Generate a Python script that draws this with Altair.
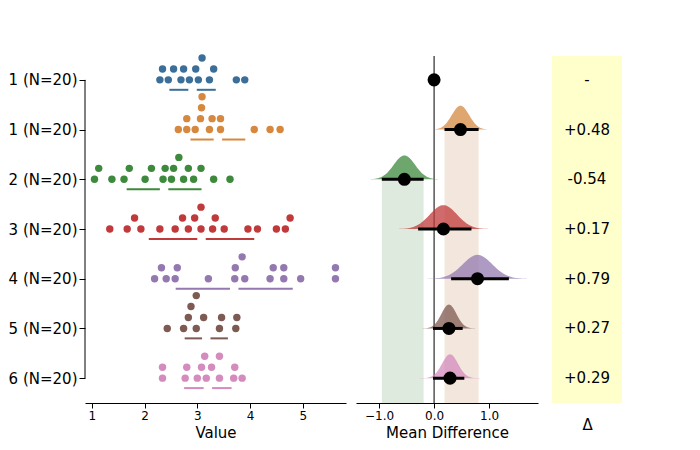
import altair as alt
import pandas as pd
import numpy as np

labels = ["1 (N=20)", "1 (N=20)", "2 (N=20)", "3 (N=20)", "4 (N=20)", "5 (N=20)", "6 (N=20)"]
swarm_colors = ["#3b6e98", "#d6883f", "#3d8a3d", "#c0393b", "#9379b0", "#7d5a52", "#d48bbd"]
dist_colors = ["#1f77b4", "#ff7f0e", "#2ca02c", "#d62728", "#9467bd", "#8c564b", "#e377c2"]

values = [
    [2.29, 2.45, 2.69, 2.85, 3.09, 3.23, 3.74, 3.90, 2.34, 2.55, 2.74, 2.97, 3.31, 3.02],
    [2.64, 2.80, 2.96, 3.23, 3.44, 4.08, 4.38, 4.57, 2.80, 3.06, 3.28, 3.44, 3.08, 3.09],
    [1.05, 1.38, 1.61, 2.01, 2.35, 2.51, 2.83, 3.07, 3.31, 3.62, 1.13, 1.71, 2.13, 2.39, 2.55, 2.74, 2.93, 2.65],
    [1.34, 1.67, 1.93, 2.29, 2.58, 2.72, 2.95, 3.29, 3.51, 3.96, 4.14, 4.50, 4.67, 1.81, 2.83, 3.34, 4.76, 3.07, 3.07],
    [2.19, 2.58, 3.21, 3.71, 4.38, 4.64, 4.96, 5.62, 2.32, 2.62, 3.72, 3.85, 4.44, 4.64, 5.62, 2.41, 3.90],
    [2.43, 2.74, 2.98, 3.12, 3.42, 3.73, 2.83, 2.98, 3.46, 3.75, 2.88],
    [2.34, 2.77, 3.00, 3.17, 3.42, 3.69, 3.85, 2.34, 2.80, 3.08, 3.27, 3.42, 3.71, 3.14],
]
means = [2.91, 3.39, 2.37, 3.08, 3.70, 3.17, 3.20]
sds = [0.44, 0.52, 0.71, 1.00, 1.11, 0.41, 0.45]

diffs = [0.0, 0.48, -0.54, 0.17, 0.79, 0.27, 0.29]
ci_lo = [None, 0.19, -0.95, -0.29, 0.31, -0.02, -0.02]
ci_hi = [None, 0.81, -0.19, 0.68, 1.36, 0.52, 0.55]
delta_text = ["-", "+0.48", "-0.54", "+0.17", "+0.79", "+0.27", "+0.29"]

# simple one-sided beeswarm
pts = []
for g, vals in enumerate(values):
    placed = []
    for v in sorted(vals):
        lvl = 0
        while any(l == lvl and abs(p - v) < 0.15 for p, l in placed):
            lvl += 1
        placed.append((v, lvl))
    for v, l in placed:
        pts.append({"g": g, "v": v, "y": g - 0.22 * l})
pts = pd.DataFrame(pts)

gap = 0.08
sd_rows = []
for g in range(7):
    sd_rows.append({"g": g, "x": means[g] - sds[g], "x2": means[g] - gap, "y": g + 0.2})
    sd_rows.append({"g": g, "x": means[g] + gap, "x2": means[g] + sds[g], "y": g + 0.2})
sd_df = pd.DataFrame(sd_rows)

ydom = [-0.48, 6.5]
yscale = alt.Scale(domain=ydom, reverse=True, nice=False, zero=False)
label_expr = "[" + ",".join("'%s'" % l for l in labels) + "][datum.value]"
H = 347

cscale = alt.Scale(domain=list(range(7)), range=swarm_colors)
dots = alt.Chart(pts).mark_circle(size=55, opacity=1).encode(
    x=alt.X("v:Q", scale=alt.Scale(domain=[0.87, 5.82], nice=False), title="Value",
            axis=alt.Axis(values=[1, 2, 3, 4, 5], grid=False, labelFontSize=12, titleFontSize=15,
                          titleFontWeight="normal", domainColor="black", tickColor="black")),
    y=alt.Y("y:Q", scale=yscale, title=None,
            axis=alt.Axis(values=list(range(7)), labelExpr=label_expr, grid=False, domain=False,
                          labelFontSize=15, tickColor="black", tickSize=6)),
    color=alt.Color("g:O", scale=cscale, legend=None),
)
sdlines = alt.Chart(sd_df).mark_rule(strokeWidth=2).encode(
    x="x:Q", x2="x2:Q", y=alt.Y("y:Q", scale=yscale),
    color=alt.Color("g:O", scale=cscale, legend=None),
)
spine = alt.Chart(pd.DataFrame({"a": [0], "b": [6]})).mark_rule(color="black").encode(
    x=alt.value(0), y=alt.Y("a:Q", scale=yscale), y2="b:Q")
left = (spine + dots + sdlines).properties(width=261, height=H)

# middle panel
dist_rows = []
for g in range(1, 7):
    se = (ci_hi[g] - ci_lo[g]) / 3.92
    for z in np.linspace(-4, 4, 81):
        dist_rows.append({"g": g, "x": diffs[g] + z * se,
                          "y": g - 0.48 * np.exp(-0.5 * z * z), "y2": g})
dist_df = pd.DataFrame(dist_rows)
summ = pd.DataFrame({"g": list(range(7)), "d": diffs, "lo": ci_lo, "hi": ci_hi})
bands = pd.DataFrame({"x": [ci_lo[1], ci_lo[2]], "x2": [ci_hi[1], ci_hi[2]],
                      "y": [1, 2], "y2": [6.5, 6.5], "c": ["#f3e6dc", "#dfeadf"]})

xmid = alt.Scale(domain=[-1.42, 1.89], nice=False)
band = alt.Chart(bands).mark_rect().encode(
    x=alt.X("x:Q", scale=xmid, title="Mean Difference",
            axis=alt.Axis(values=[-1, 0, 1], grid=False, labelFontSize=12, titleFontSize=15,
                          titleFontWeight="normal", domainColor="black", tickColor="black")),
    x2="x2:Q", y=alt.Y("y:Q", scale=yscale, axis=None), y2="y2:Q",
    color=alt.Color("c:N", scale=None))
zero = alt.Chart(pd.DataFrame({"x": [0]})).mark_rule(color="black", strokeWidth=1).encode(x="x:Q")
area = alt.Chart(dist_df).mark_area(opacity=0.75).encode(
    x="x:Q", y=alt.Y("y:Q", scale=yscale), y2="y2:Q",
    color=alt.Color("g:O", scale=alt.Scale(domain=list(range(7)), range=dist_colors), legend=None),
    detail="g:O")
ci = alt.Chart(summ.dropna()).mark_rule(color="black", strokeWidth=3).encode(
    x="lo:Q", x2="hi:Q", y=alt.Y("g:Q", scale=yscale))
pt = alt.Chart(summ).mark_circle(color="black", size=170, opacity=1).encode(
    x="d:Q", y=alt.Y("g:Q", scale=yscale))
mid = (band + zero + area + ci + pt).properties(width=182, height=H)

# delta panel
tdf = pd.DataFrame({"g": list(range(7)), "t": delta_text})
bg = alt.Chart(pd.DataFrame({"a": [0]})).mark_rect(color="#ffffcc").encode(
    x=alt.value(0), x2=alt.value(70), y=alt.value(0), y2=alt.value(H))
txt = alt.Chart(tdf).mark_text(fontSize=15, color="black").encode(
    x=alt.X("a:Q", scale=alt.Scale(domain=[0, 1]), title="Δ",
            axis=alt.Axis(labels=False, ticks=False, domain=False, grid=False,
                          titleFontSize=15, titleFontWeight="normal", titlePadding=14)),
    y=alt.Y("g:Q", scale=yscale, axis=None), text="t:N"
).transform_calculate(a="0.5")
right = (bg + txt).properties(width=70, height=H)

chart = alt.hconcat(left, mid, spacing=10).properties()
chart = alt.hconcat(chart, right, spacing=14).configure_view(stroke=None).configure_axis(
    labelFont="DejaVu Sans", titleFont="DejaVu Sans", labelColor="black", titleColor="black"
).configure_text(font="DejaVu Sans").properties(padding={"top": 46, "left": 0, "right": 5, "bottom": 5})

chart.save("out.html", embed_options={"renderer": "svg", "actions": False})
